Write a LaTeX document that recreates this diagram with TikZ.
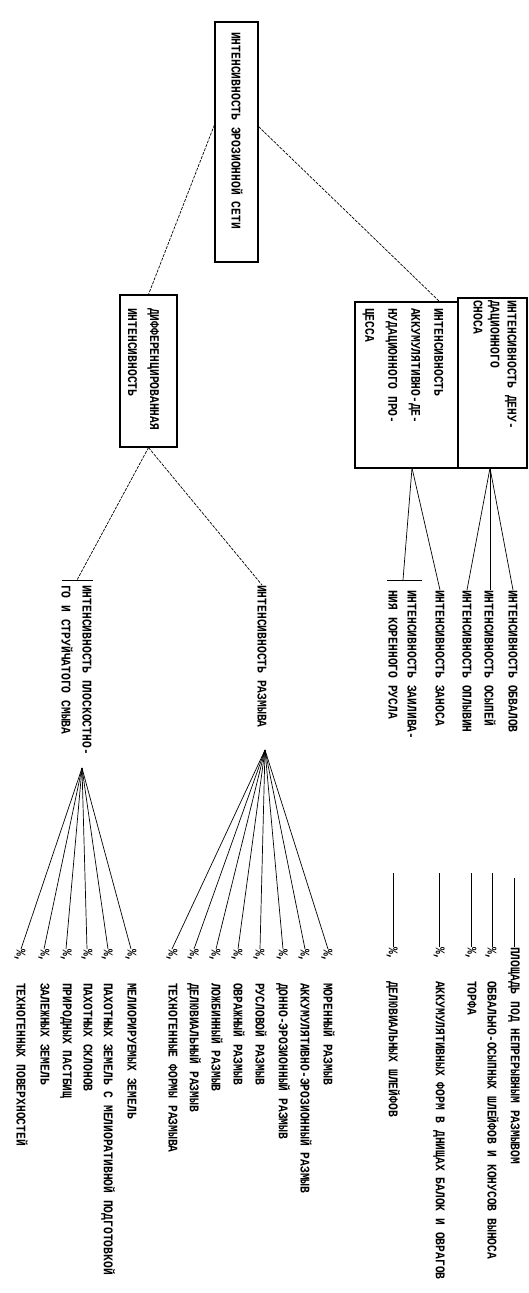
\documentclass[tikz,border=0pt]{standalone}
\usepackage{fontspec}
\newfontfamily\lab[FakeStretch=0.85]{Liberation Mono}
\newcommand{\pc}{\%,\ \ \ }
\begin{document}
\begin{tikzpicture}[x=1pt,y=-1pt,
  lbl/.style={font=\lab\bfseries\fontsize{13.3}{21}\selectfont, rotate=-90, inner sep=0pt, align=left, anchor=west},
  boxn/.style={draw, line width=1.1pt, inner sep=0pt},
  con/.style={line width=0.7pt},
  dcon/.style={line width=0.7pt, dash pattern=on 3pt off 1.2pt}]
\useasboundingbox[fill=white] (0,0) rectangle (529,1293);

% boxes
\node[boxn, minimum width=43pt, minimum height=240pt] (top) at (236.5,142) {};
\node[boxn, minimum width=57pt, minimum height=152pt] (mid) at (148.5,371) {};
\node[boxn, minimum width=103pt, minimum height=166pt] (mbox) at (406.5,385) {};
\node[boxn, minimum width=69pt, minimum height=170pt] (rbox) at (492.5,383) {};

% box texts
\node[lbl] (topT) at (237,32) {ИНТЕНСИВНОСТЬ ЭРОЗИОННОЙ СЕТИ};
\node[lbl, font=\lab\bfseries\fontsize{13.3}{22}\selectfont] (midT) at (143.5,308) {ДИФФЕРЕНЦИРОВАННАЯ\\ИНТЕНСИВНОСТЬ};
\node[lbl, font=\lab\bfseries\fontsize{13.3}{23}\selectfont] (mboxT) at (403,308) {ИНТЕНСИВНОСТЬ\\АККУМУЛЯТИВНО-ДЕ-\\НУДАЦИОННОГО ПРО-\\ЦЕССА};
\node[lbl, font=\lab\bfseries\fontsize{13.3}{17}\selectfont] (rboxT) at (495,300) {ИНТЕНСИВНОСТЬ ДЕНУ-\\ДАЦИОННОГО\\СНОСА};

% level 2 nodes
\node[lbl] (plo) at (76.5,585) {ИНТЕНСИВНОСТЬ ПЛОСКОСТНО-\\ГО И СТРУЙЧАТОГО СМЫВА};
\node[lbl] (raz) at (262,585) {ИНТЕНСИВНОСТЬ РАЗМЫВА};
\node[lbl, font=\lab\bfseries\fontsize{13.3}{19}\selectfont] (zai) at (402.5,590) {ИНТЕНСИВНОСТЬ ЗАИЛИВА-\\НИЯ КОРЕННОГО РУСЛА};
\node[lbl] (zan) at (440,590) {ИНТЕНСИВНОСТЬ ЗАНОСА};
\node[lbl] (opl) at (467,590) {ИНТЕНСИВНОСТЬ ОПЛЫВИН};
\node[lbl] (osy) at (490,590) {ИНТЕНСИВНОСТЬ ОСЫПЕЙ};
\node[lbl] (obv) at (513,590) {ИНТЕНСИВНОСТЬ ОБВАЛОВ};

% brackets
\coordinate (plA) at (62,580); \coordinate (plB) at (93,580);
\coordinate (zaA) at (387,580); \coordinate (zaB) at (422,580);
\draw[con] (plA) -- (plB);
\draw[con] (zaA) -- (zaB);
\coordinate (plJ) at (77,580);
\coordinate (zaJ) at (403,580);

% top-level connectors
\draw[dcon] (top.142) -- (mid.north);
\draw[dcon] (top.35) -- (440,302) coordinate (mtop);
\draw[dcon] (mid.south) -- (plJ);
\draw[dcon] (mid.south) -- (raz.west);
\coordinate (mb) at (412,468);
\coordinate (rb) at (490,468);
\draw[con] (mb) -- (zaJ);
\draw[con] (mb) -- (zan.west);
\draw[con] (rb) -- (opl.west);
\draw[con] (rb) -- (osy.west);
\draw[con] (rb) -- (obv.west);

% left fan items
\coordinate (lap) at (82,768);
\node[lbl] (l1) at (131,949) {\pc МЕЛИОРИРУЕМЫХ ЗЕМЕЛЬ};
\node[lbl] (l2) at (108,949) {\pc ПАХОТНЫХ ЗЕМЕЛЬ С МЕЛИОРАТИВНОЙ ПОДГОТОВКОЙ};
\node[lbl] (l3) at (87,949) {\pc ПАХОТНЫХ СКЛОНОВ};
\node[lbl] (l4) at (66,949) {\pc ПРИРОДНЫХ ПАСТБИЩ};
\node[lbl] (l5) at (44,949) {\pc ЗАЛЕЖНЫХ ЗЕМЕЛЬ};
\node[lbl] (l6) at (21,949) {\pc ТЕХНОГЕННЫХ ПОВЕРХНОСТЕЙ};
\foreach \n in {l1,l2,l3,l4,l5,l6} \draw[con] (lap) -- (\n.west);

% right fan items
\coordinate (rap) at (265,750);
\node[lbl] (r1) at (328,949) {\pc МОРЕННЫЙ РАЗМЫВ};
\node[lbl] (r2) at (305,949) {\pc АККУМУЛЯТИВНО-ЭРОЗИОННЫЙ РАЗМЫВ};
\node[lbl] (r3) at (283,949) {\pc ДОННО-ЭРОЗИОННЫЙ РАЗМЫВ};
\node[lbl] (r4) at (260,949) {\pc РУСЛОВОЙ РАЗМЫВ};
\node[lbl] (r5) at (238,949) {\pc ОВРАЖНЫЙ РАЗМЫВ};
\node[lbl] (r6) at (216,949) {\pc ЛОЖБИННЫЙ РАЗМЫВ};
\node[lbl] (r7) at (194,949) {\pc ДЕЛЮВИАЛЬНЫЙ РАЗМЫВ};
\node[lbl] (r8) at (172,949) {\pc ТЕХНОГЕННЫЕ ФОРМЫ РАЗМЫВА};
\foreach \n in {r1,r2,r3,r4,r5,r6,r7,r8} \draw[con] (rap) -- (\n.west);

% far right items with free vertical lines
\node[lbl] (f1) at (393,947) {\pc ДЕЛЮВИАЛЬНЫХ ШЛЕЙФОВ};
\node[lbl] (f2) at (439,947) {\pc АККУМУЛЯТИВНЫХ ФОРМ В ДНИЩАХ БАЛОК И ОВРАГОВ};
\node[lbl] (f3) at (471,947) {\pc ТОРФА};
\node[lbl] (f4) at (492,947) {\pc ОБВАЛЬНО-ОСЫПНЫХ ШЛЕЙФОВ И КОНУСОВ ВЫНОСА};
\node[lbl] (f5) at (514,947) {ПЛОЩАДЬ ПОД НЕПРЕРЫВНЫМ РАЗМЫВОМ};
\coordinate (f1t) at (393,873);
\coordinate (f2t) at (439,873);
\coordinate (f3t) at (471,873);
\coordinate (f4t) at (492,873);
\coordinate (f5t) at (514,878);
\draw[con] (f1t) -- (f1.west);
\draw[con] (f2t) -- (f2.west);
\draw[con] (f3t) -- (f3.west);
\draw[con] (f4t) -- (f4.west);
\draw[con] (f5t) -- (f5.west);
\end{tikzpicture}
\end{document}
